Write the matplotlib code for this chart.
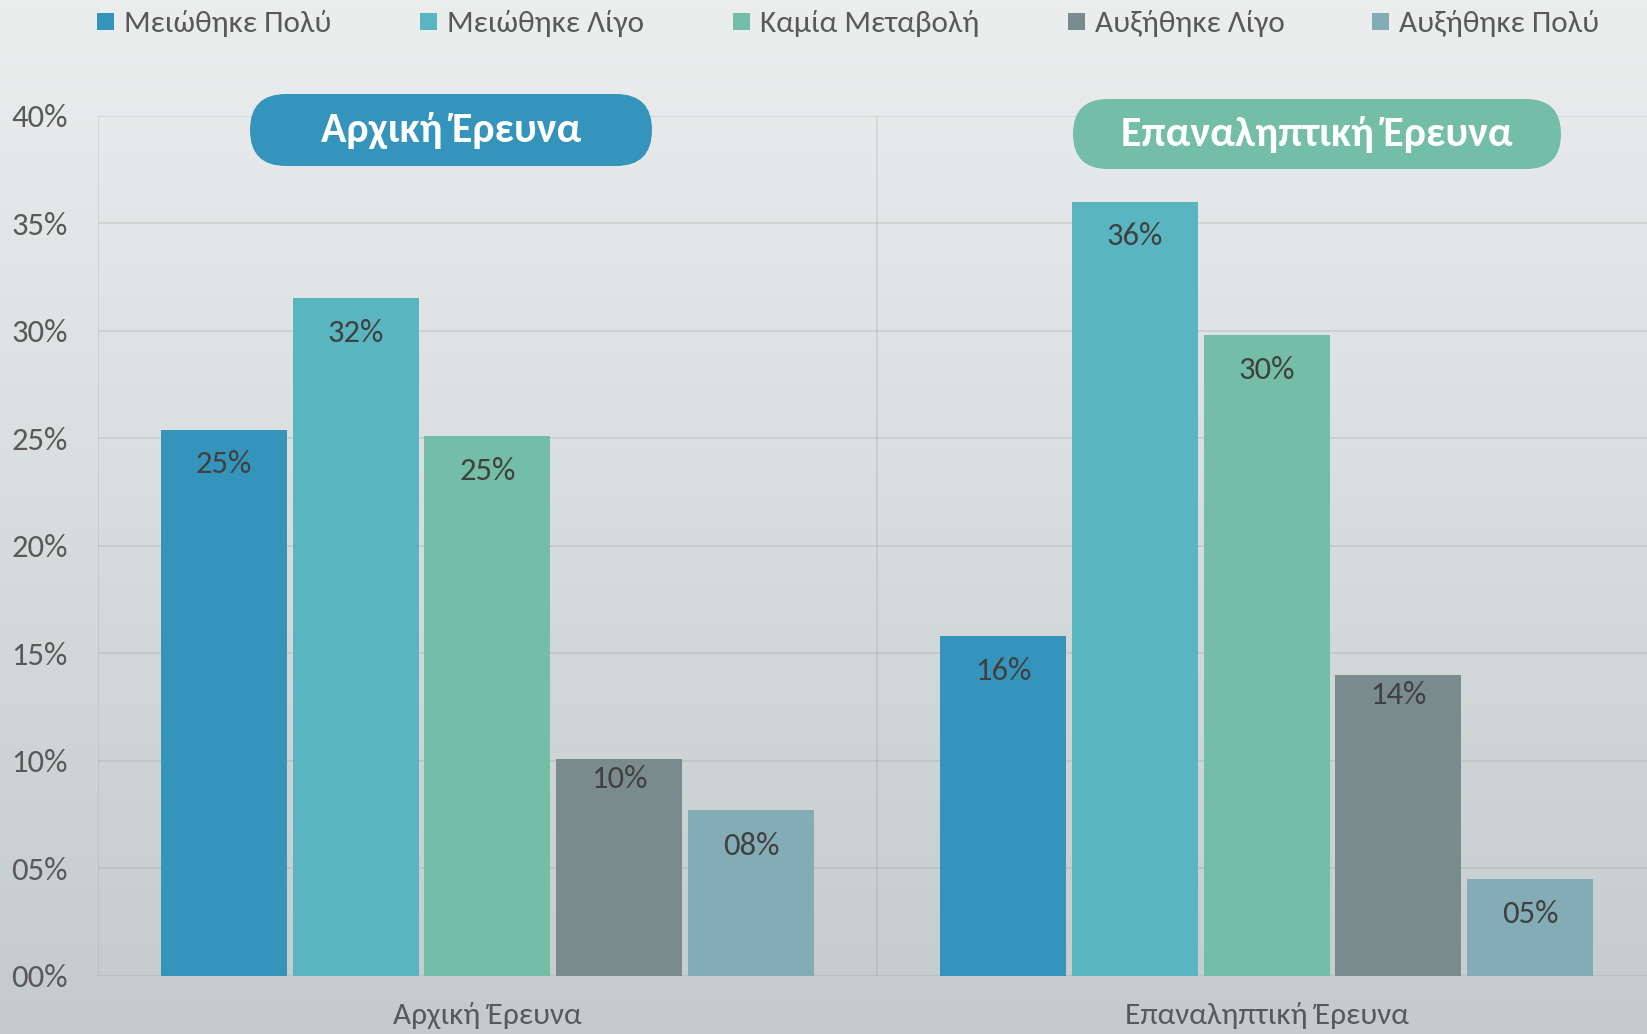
import numpy as np
import matplotlib
matplotlib.use("Agg")
import matplotlib.pyplot as plt
from matplotlib import font_manager as fm
from matplotlib.patches import FancyBboxPatch, Rectangle
from matplotlib.transforms import IdentityTransform

# ---------------- data ----------------
categories = ["Αρχική Έρευνα", "Επαναληπτική Έρευνα"]
series_names = ["Μειώθηκε Πολύ", "Μειώθηκε Λίγο", "Καμία Μεταβολή",
                "Αυξήθηκε Λίγο", "Αυξήθηκε Πολύ"]
meiothike_poly = [25.4, 15.8]
meiothike_ligo = [31.5, 36.0]
kamia_metavoli = [25.1, 29.8]
afxithike_ligo = [10.1, 14.0]
afxithike_poly = [7.7, 4.5]
series_values = [meiothike_poly, meiothike_ligo, kamia_metavoli,
                 afxithike_ligo, afxithike_poly]
colors = ["#3594bb", "#59b6c0", "#74bda6", "#7a8b8e", "#84acb6"]
y_ticks = [0, 5, 10, 15, 20, 25, 30, 35, 40]
y_tick_labels = ["00%", "05%", "10%", "15%", "20%", "25%", "30%", "35%", "40%"]
panel_titles = ["Αρχική Έρευνα", "Επαναληπτική Έρευνα"]
panel_colors = ["#3594bb", "#74bda6"]

# label offsets (points below bar top) per series -- style only
label_offsets = [-25, -25, -25, -14.5, -25.5]

# ---------------- font ----------------
names = {f.name for f in fm.fontManager.ttflist}
font, cap = "DejaVu Sans", 0.73
for cand, c in [("Carlito", 0.644), ("Lato", 0.72), ("Roboto", 0.711), ("Open Sans", 0.714)]:
    if cand in names:
        font, cap = cand, c
        break
plt.rcParams["font.family"] = [font, "DejaVu Sans"]

DPI = 100
W, H = 1647, 1034


def pt_for_cap(cap_px):
    return cap_px / cap * 72.0 / DPI


fig = plt.figure(figsize=(W / DPI, H / DPI), dpi=DPI)

# gradient background
bg = fig.add_axes([0, 0, 1, 1], zorder=-10)
top = np.array([236, 238, 238]) / 255.0
bot = np.array([195, 203, 204]) / 255.0
t = np.linspace(0, 1, 256)[:, None]
grad = top[None, :] * (1 - t) + bot[None, :] * t
bg.imshow(grad[:, None, :], aspect="auto", extent=[0, 1, 0, 1])
bg.set_axis_off()

# main axes
ax_left = 97.7 / W
ax_bottom = (H - 975.8) / H
ax_h = (975.8 - 115.5) / H
ax = fig.add_axes([ax_left, ax_bottom, 1 - ax_left, ax_h])
ax.set_facecolor("none")

x = np.arange(len(categories))
step = 0.1691
width = 0.1617
n = len(series_values)
label_pt = pt_for_cap(21)
for i, (vals, col, name) in enumerate(zip(series_values, colors, series_names)):
    pos = x + (i - (n - 1) / 2) * step
    bars = ax.bar(pos, vals, width=width, color=col, label=name, zorder=3)
    for b, v in zip(bars, vals):
        ax.annotate(f"{int(v + 0.5):02d}%", (b.get_x() + b.get_width() / 2, v),
                    xytext=(0, label_offsets[i]), textcoords="offset points",
                    ha="center", va="center", fontsize=label_pt,
                    color="#404040", zorder=4)

ax.set_ylim(0, 40)
ax.set_xlim(-0.5, 1.488)
ax.set_yticks(y_ticks)
ax.set_yticklabels(y_tick_labels)
ax.set_xticks(x)
ax.set_xticklabels(categories)
ax.tick_params(axis="both", length=0, colors="#595959")
ax.tick_params(axis="y", labelsize=pt_for_cap(21), pad=21.5)
ax.tick_params(axis="x", labelsize=pt_for_cap(18) * 1.12, pad=19)
for s in ax.spines.values():
    s.set_visible(False)
grid_col = (0.56, 0.56, 0.56, 0.22)
for yv in y_ticks:
    ax.axhline(yv, color=grid_col, lw=1.3, zorder=1)
for xv in [-0.5, 0.5]:
    ax.axvline(xv, color=grid_col, lw=1.3, zorder=1)

# panel title pills (pixel coordinates from top-left of the image)
pill_boxes = [(250, 94, 652, 166), (1073, 99, 1561, 169)]
for (x0, y0, x1, y1), txt, col in zip(pill_boxes, panel_titles, panel_colors):
    h = y1 - y0
    r = h / 2
    p = FancyBboxPatch((x0, H - y1), x1 - x0, h,
                       boxstyle=f"round,pad=0,rounding_size={r}",
                       transform=IdentityTransform(), facecolor=col,
                       edgecolor="none", zorder=20)
    fig.add_artist(p)
    fig.text((x0 + x1) / 2 / W, (H - (y0 + y1) / 2 + 3) / H, txt,
             ha="center", va="center_baseline", color="white",
             fontsize=pt_for_cap(27), fontweight="bold", zorder=21)

# legend (manual, figure pixels)
leg_x = [97, 420, 733, 1068, 1372]
leg_cy = 21.0
sq = 17
for lx, col, name in zip(leg_x, colors, series_names):
    fig.add_artist(Rectangle((lx, H - leg_cy - sq / 2), sq, sq,
                             transform=IdentityTransform(), facecolor=col,
                             edgecolor="none"))
    fig.text((lx + sq + 10) / W, (H - leg_cy) / H, name, ha="left",
             va="center_baseline", fontsize=pt_for_cap(18) * 1.12, color="#595959")

fig.savefig("out.png", dpi=DPI)
